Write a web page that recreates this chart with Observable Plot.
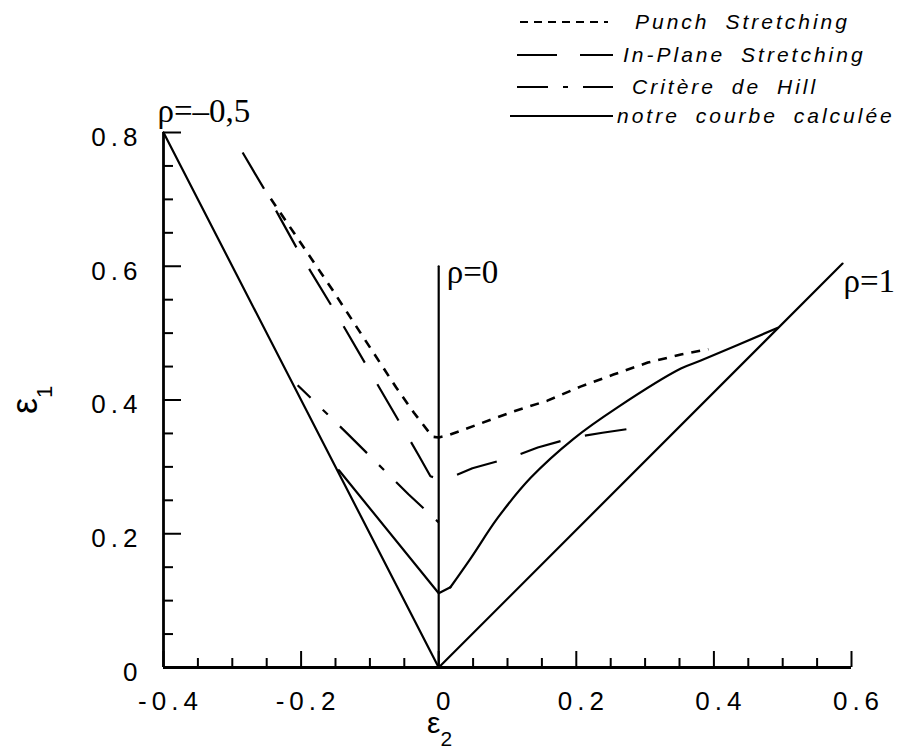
<!DOCTYPE html>
<html>
<head>
<meta charset="utf-8">
<script src="https://cdn.jsdelivr.net/npm/d3@7"></script>
<script src="https://cdn.jsdelivr.net/npm/@observablehq/plot@0.6"></script>
<style>
  body { margin: 0; background: #fff; }
  #wrap { position: relative; width: 905px; height: 754px; overflow: hidden; }
  #wrap svg { display: block; }
  .lg { position: absolute; font-family: "Liberation Sans", Arial, sans-serif; font-style: italic;
        font-size: 21px; letter-spacing: 3px; word-spacing: 7px; color: #000; white-space: nowrap; line-height: 1; }
  .lgline { position: absolute; }
</style>
</head>
<body>
<div id="wrap"></div>
<script>
// ---------- data ----------
// straight reference paths (rho = -0.5, 0, 1)
const rhoNegX = [-0.4, 0];
const rhoNegY = [0.8, 0];
const rhoZeroX = [0, 0];
const rhoZeroY = [0, 0.6];
const rhoOneX = [0, 0.587];
const rhoOneY = [0, 0.604];

// notre courbe calculée (left straight branch + V bottom, right curved branch)
const calcLeftX = [-0.145, 0, 0.017];
const calcLeftY = [0.295, 0.111, 0.120];
const calcRightX = [0.017, 0.047, 0.086, 0.134, 0.196, 0.260, 0.352, 0.381, 0.493];
const calcRightY = [0.120, 0.164, 0.224, 0.284, 0.342, 0.389, 0.447, 0.459, 0.508];

// Punch Stretching
const punchX = [-0.244, -0.198, -0.154, -0.109, -0.062, -0.036, -0.009, 0, 0.013, 0.061, 0.109, 0.158, 0.206, 0.254, 0.304, 0.352, 0.392];
const punchY = [0.701, 0.631, 0.564, 0.493, 0.419, 0.381, 0.345, 0.344, 0.347, 0.365, 0.383, 0.399, 0.420, 0.438, 0.456, 0.468, 0.476];

// In-Plane Stretching
const inPlaneX = [-0.285, -0.254, -0.203, -0.150, -0.099, -0.048, -0.029, -0.012, 0, 0.015, 0.049, 0.105, 0.144, 0.196, 0.238, 0.298];
const inPlaneY = [0.770, 0.716, 0.621, 0.531, 0.441, 0.351, 0.317, 0.286, 0.282, 0.283, 0.298, 0.314, 0.329, 0.344, 0.351, 0.360];

// Critère de Hill
const hillX = [-0.205, -0.132, -0.044, 0];
const hillY = [0.422, 0.349, 0.259, 0.217];

// axes
const xMajorTicks = [-0.4, -0.2, 0, 0.2, 0.4, 0.6];
const xTickLabels = ["-0.4", "-0.2", "0", "0.2", "0.4", "0.6"];
const xMinorTicks = [-0.35, -0.3, -0.25, -0.15, -0.1, -0.05, 0.05, 0.1, 0.15, 0.25, 0.3, 0.35, 0.45, 0.5, 0.55];
const yMajorTicks = [0, 0.2, 0.4, 0.6, 0.8];
const yTickLabels = ["0", "0.2", "0.4", "0.6", "0.8"];
const yMinorTicks = [0.05, 0.1, 0.15, 0.25, 0.3, 0.35, 0.45, 0.5, 0.55, 0.65, 0.7, 0.75];

// annotations
const rhoLabels = ["ρ=–0,5", "ρ=0", "ρ=1"];
const rhoLabelX = [-0.4, 0, 0.6];
const rhoLabelY = [0.8, 0.6, 0.6];

// legend
const legendLabels = ["Punch Stretching", "In-Plane Stretching", "Critère de Hill", "notre courbe calculée"];
const legendDash = ["8,6", "40,23", "31,15,5,15", null];

// ---------- helpers ----------
const pts = (xs, ys) => xs.map((x, i) => ({x, y: ys[i]}));
const sans = "Liberation Sans, Arial, Helvetica, sans-serif";
const serif = "Liberation Serif, Times New Roman, serif";
const lw = 2.2;

const plot = Plot.plot({
  width: 905,
  height: 754,
  marginLeft: 163,
  marginRight: 54,
  marginTop: 132,
  marginBottom: 87,
  x: {domain: [-0.4, 0.6], axis: null},
  y: {domain: [0, 0.8], axis: null},
  style: {background: "white", color: "black", overflow: "visible"},
  marks: [
    // axis lines
    Plot.ruleY([0], {strokeWidth: 2.8}),
    Plot.ruleX([-0.4], {strokeWidth: 2.8}),
    // x ticks (inward)
    Plot.ruleX(xMinorTicks, {x: d => d, y1: () => 0, y2: () => 0, insetTop: -9, insetBottom: 0, strokeWidth: 2}),
    Plot.ruleX(xMajorTicks, {x: d => d, y1: () => 0, y2: () => 0, insetTop: -16, insetBottom: 0, strokeWidth: 2}),
    // y ticks (inward)
    Plot.ruleY(yMinorTicks, {y: d => d, x1: () => -0.4, x2: () => -0.4, insetLeft: 0, insetRight: -10, strokeWidth: 2}),
    Plot.ruleY(yMajorTicks, {y: d => d, x1: () => -0.4, x2: () => -0.4, insetLeft: 0, insetRight: -18, strokeWidth: 2}),
    // tick labels
    Plot.text(xMajorTicks, {x: d => d, frameAnchor: "bottom", text: (d, i) => xTickLabels[i], dy: 42, dx: 7,
      fontSize: 26, fontFamily: sans, textAnchor: "middle"}),
    Plot.text(yMajorTicks, {y: d => d, frameAnchor: "left", text: (d, i) => yTickLabels[i], dx: -21, dy: 5,
      fontSize: 26, fontFamily: sans, textAnchor: "end"}),
    // solid computed curves
    Plot.line(pts(rhoNegX, rhoNegY), {x: "x", y: "y", stroke: "black", strokeWidth: lw}),
    Plot.line(pts(rhoZeroX, rhoZeroY), {x: "x", y: "y", stroke: "black", strokeWidth: lw}),
    Plot.line(pts(rhoOneX, rhoOneY), {x: "x", y: "y", stroke: "black", strokeWidth: lw}),
    Plot.line(pts(calcLeftX, calcLeftY), {x: "x", y: "y", stroke: "black", strokeWidth: lw}),
    Plot.line(pts(calcRightX, calcRightY), {x: "x", y: "y", stroke: "black", strokeWidth: lw, curve: "catmull-rom"}),
    // dashed experimental curves
    Plot.line(pts(punchX, punchY), {x: "x", y: "y", stroke: "black", strokeWidth: lw + 0.4, strokeDasharray: "9,8", strokeLinecap: "butt"}),
    Plot.line(pts(inPlaneX, inPlaneY), {x: "x", y: "y", stroke: "black", strokeWidth: lw, strokeDasharray: "42,25", strokeLinecap: "butt"}),
    Plot.line(pts(hillX, hillY), {x: "x", y: "y", stroke: "black", strokeWidth: lw, strokeDasharray: "38,17,7,17", strokeDashoffset: 20, strokeLinecap: "butt"}),
    // rho annotations
    Plot.text([0], {x: () => rhoLabelX[0], y: () => rhoLabelY[0], text: () => rhoLabels[0], dx: -6, dy: -21,
      fontSize: 33, fontFamily: serif, textAnchor: "start"}),
    Plot.text([1], {x: () => rhoLabelX[1], y: () => rhoLabelY[1], text: () => rhoLabels[1], dx: 8, dy: 6,
      fontSize: 33, fontFamily: serif, textAnchor: "start"}),
    Plot.text([2], {x: () => rhoLabelX[2], y: () => rhoLabelY[2], text: () => rhoLabels[2], dx: -8, dy: 15,
      fontSize: 33, fontFamily: serif, textAnchor: "start"})
  ]
});

const wrap = document.getElementById("wrap");
wrap.appendChild(plot);

// letter spacing for the sans tick labels (old plotter look)
d3.select(plot).selectAll("g[aria-label='text']")
  .filter(function () { return (this.getAttribute("font-family") || "").startsWith("Liberation Sans"); })
  .attr("letter-spacing", "5px");

// axis titles with subscripts
const svg = d3.select(plot);
const yTitle = svg.append("text")
  .attr("transform", "translate(37,414) rotate(-90)")
  .attr("font-family", sans).attr("font-size", 36).attr("text-anchor", "start");
yTitle.append("tspan").text("ε");
yTitle.append("tspan").attr("font-size", 22).attr("dy", 15).text("1");

const xTitle = svg.append("text")
  .attr("transform", "translate(427,733)")
  .attr("font-family", sans).attr("font-size", 30).attr("text-anchor", "start");
xTitle.append("tspan").text("ε");
xTitle.append("tspan").attr("font-size", 21).attr("dy", 13).text("2");

// legend (top right)
const rowY = [22, 55, 87, 116];
const textX = [635, 623, 632, 617];
const lineX1 = [520, 517, 517, 510];
const lineX2 = [608, 613, 613, 613];
legendLabels.forEach((lab, i) => {
  const s = d3.select(wrap).append("svg").attr("class", "lgline")
    .attr("width", 905).attr("height", 20)
    .style("left", "0px").style("top", (rowY[i] - 10) + "px");
  s.append("line").attr("x1", lineX1[i]).attr("x2", lineX2[i]).attr("y1", 10).attr("y2", 10)
    .attr("stroke", "black").attr("stroke-width", 2)
    .attr("stroke-dasharray", legendDash[i]);
  d3.select(wrap).append("div").attr("class", "lg")
    .style("left", textX[i] + "px").style("top", (rowY[i] - 11) + "px")
    .text(lab);
});
</script>
</body>
</html>
